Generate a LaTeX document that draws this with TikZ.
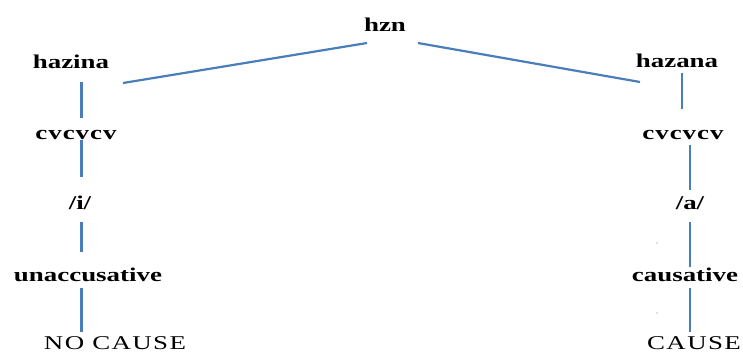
\documentclass[tikz,border=0pt]{standalone}
\usepackage{fontspec}
\setmainfont{Liberation Serif}[FakeStretch=1.38]
\definecolor{lineblue}{RGB}{74,126,187}
\begin{document}
\begin{tikzpicture}[x=1bp,y=-1bp,
  lbl/.style={inner sep=0pt,anchor=base,font=\fontsize{19.5bp}{22bp}\selectfont\bfseries},
  lblr/.style={inner sep=0pt,anchor=base,font=\fontsize{19.5bp}{22bp}\selectfont\addfontfeature{LetterSpace=7}},
  spaced/.style={font=\fontsize{19.5bp}{22bp}\selectfont\bfseries\addfontfeature{LetterSpace=5}},
  thin/.style={draw=lineblue,line width=2.2bp},
  thick/.style={draw=lineblue,line width=3bp}]
\useasboundingbox (0,0) rectangle (743,353);
% nodes
\node[lbl] (hzn) at (385,31) {hzn};
\node[lbl] (hazina) at (71,68) {hazina};
\node[lbl,spaced] (cvl) at (76,139) {cvcvcv};
\node[lbl] (il) at (80,209) {/i/};
\node[lbl] (unacc) at (88,281) {unaccusative};
\node[lblr] (nocause) at (115,349) {NO CAUSE};
\node[lbl] (hazana) at (677,67) {hazana};
\node[lbl,spaced] (cvr) at (683,139) {cvcvcv};
\node[lbl] (ar) at (690,209) {/a/};
\node[lbl] (caus) at (685,281) {causative};
\node[lblr] (cause) at (694,349) {CAUSE};
% connector ends
\coordinate (a1) at (367,43); \coordinate (a2) at (123,83);
\coordinate (b1) at (418,43); \coordinate (b2) at (640,82);
\coordinate (l1) at (81,82);  \coordinate (l2) at (81,118);
\coordinate (l3) at (81,140); \coordinate (l4) at (81,177);
\coordinate (l5) at (81,222); \coordinate (l6) at (81,252);
\coordinate (l7) at (81,288); \coordinate (l8) at (81,332);
\coordinate (r1) at (682,73); \coordinate (r2) at (682,109);
\coordinate (r3) at (690,145); \coordinate (r4) at (690,190);
\coordinate (r5) at (690,222); \coordinate (r6) at (690,267);
\coordinate (r7) at (690,288); \coordinate (r8) at (690,332);
% connectors
\draw[thin] (a1) -- (a2);
\draw[thin] (b1) -- (b2);
\draw[thick] (l1) -- (l2);
\draw[thick] (l3) -- (l4);
\draw[thick] (l5) -- (l6);
\draw[thick] (l7) -- (l8);
\draw[thin] (r1) -- (r2);
\draw[thin] (r3) -- (r4);
\draw[thin] (r5) -- (r6);
\draw[thin] (r7) -- (r8);
% specks
\fill[lineblue] (657,243) circle (0.7);
\fill[lineblue] (657,313) circle (0.7);
\end{tikzpicture}
\end{document}
